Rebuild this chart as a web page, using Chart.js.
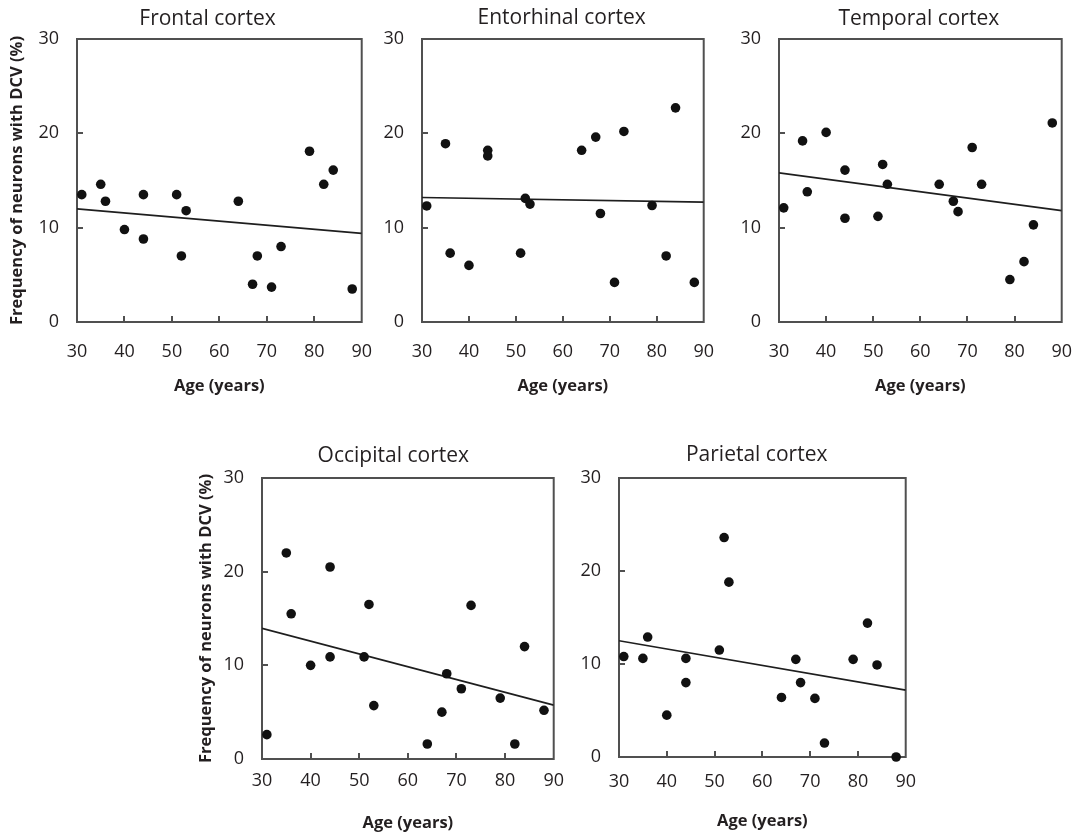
<!DOCTYPE html>
<html>
<head>
<meta charset="utf-8">
<title>DCV frequency vs age</title>
<script src="https://cdn.jsdelivr.net/npm/chart.js@4.4.1/dist/chart.umd.min.js"></script>
<style>
  html, body { margin: 0; padding: 0; background: #fff; }
  body { width: 1087px; height: 834px; position: relative; overflow: hidden; }
  canvas { position: absolute; }
</style>
</head>
<body>
<canvas id="cFrontal"></canvas>
<canvas id="cEntorhinal"></canvas>
<canvas id="cTemporal"></canvas>
<canvas id="cOccipital"></canvas>
<canvas id="cParietal"></canvas>
<script>
// ── DATA ─────────────────────────────────────────────────────────────────────
const ages = [31, 35, 36, 40, 44, 44, 51, 52, 53, 64, 67, 68, 71, 73, 79, 82, 84, 88];

const frontal    = [13.5, 14.6, 12.8, 9.8, 13.5, 8.8, 13.5, 7.0, 11.8, 12.8, 4.0, 7.0, 3.7, 8.0, 18.1, 14.6, 16.1, 3.5];
const entorhinal = [12.3, 18.9, 7.3, 6.0, 18.2, 17.6, 7.3, 13.1, 12.5, 18.2, 19.6, 11.5, 4.2, 20.2, 12.35, 7.0, 22.7, 4.2];
const temporal   = [12.1, 19.2, 13.8, 20.1, 16.1, 11.0, 11.2, 16.7, 14.6, 14.6, 12.8, 11.7, 18.5, 14.6, 4.5, 6.4, 10.3, 21.1];
const occipital  = [2.6, 22.0, 15.5, 10.0, 20.5, 10.9, 10.9, 16.5, 5.7, 1.6, 5.0, 9.1, 7.5, 16.4, 6.5, 1.6, 12.0, 5.2];
const parietal   = [10.8, 10.6, 12.9, 4.5, 10.6, 8.0, 11.5, 23.6, 18.8, 6.4, 10.5, 8.0, 6.3, 1.5, 10.5, 14.4, 9.9, 0.0];

// regression lines, value at each end of the age axis
const fitAges       = [30, 90];
const frontalFit    = [12.0, 9.4];
const entorhinalFit = [13.2, 12.7];
const temporalFit   = [15.8, 11.8];
const occipitalFit  = [13.95, 5.75];
const parietalFit   = [12.5, 7.2];

const xTickValues = [30, 40, 50, 60, 70, 80, 90];
const yTickValues = [0, 10, 20, 30];

const xTitle = "Age (years)";
const yTitle = "Frequency of neurons with DCV (%)";

// ── STYLE ────────────────────────────────────────────────────────────────────
const INK   = "#231f20";
const FRAME = "#505050";
const FONT  = "'Open Sans', sans-serif";
const Y_AXIS_W = 77, X_AXIS_H = 78, PAD_TOP = 39, PAD_RIGHT = 20;

// box round the plot + short inward tick marks
const framePlugin = {
  id: "frame",
  beforeDatasetsDraw(chart) {
    const { ctx, chartArea: a, scales: { x, y } } = chart;
    ctx.save();
    ctx.strokeStyle = FRAME;
    ctx.lineWidth = 2;
    ctx.strokeRect(a.left, a.top, a.right - a.left, a.bottom - a.top);
    ctx.beginPath();
    x.ticks.forEach(t => {
      if (t.value <= x.min || t.value >= x.max) return;
      const px = Math.round(x.getPixelForValue(t.value));
      ctx.moveTo(px, a.bottom);
      ctx.lineTo(px, a.bottom - 6);
    });
    y.ticks.forEach(t => {
      if (t.value <= y.min || t.value >= y.max) return;
      const py = Math.round(y.getPixelForValue(t.value));
      ctx.moveTo(a.left, py);
      ctx.lineTo(a.left + 6, py);
    });
    ctx.stroke();
    ctx.restore();
  }
};

// panel heading, placed like the original (not exactly centred on the box)
const headingPlugin = {
  id: "heading",
  afterDraw(chart, args, opts) {
    const ctx = chart.ctx;
    ctx.save();
    ctx.fillStyle = INK;
    ctx.font = `21px ${FONT}`;
    ctx.textAlign = "center";
    ctx.textBaseline = "alphabetic";
    ctx.fillText(opts.text, opts.x, opts.y);
    ctx.restore();
  }
};

function drawPanel(id, name, values, fit, g) {
  const canvas = document.getElementById(id);
  const left = g.L - Y_AXIS_W, top = g.T - PAD_TOP;
  canvas.width  = g.R - left + PAD_RIGHT;
  canvas.height = g.B - top + X_AXIS_H;
  canvas.style.left = left + "px";
  canvas.style.top  = top + "px";

  const pts  = ages.map((a, i) => ({ x: a, y: values[i] }));
  const line = fitAges.map((a, i) => ({ x: a, y: fit[i] }));

  new Chart(canvas.getContext("2d"), {
    type: "scatter",
    data: {
      datasets: [
        { data: pts, backgroundColor: "#111", borderWidth: 0, pointRadius: 4.8, clip: false },
        { data: line, showLine: true, borderColor: "#1e1e1e", borderWidth: 1.7, pointRadius: 0, fill: false }
      ]
    },
    options: {
      responsive: false,
      animation: false,
      events: [],
      layout: { padding: { left: 0, top: PAD_TOP, right: PAD_RIGHT, bottom: 0 } },
      plugins: {
        legend: { display: false },
        tooltip: { enabled: false },
        heading: { text: name, x: g.titleX - left, y: g.titleY - top }
      },
      scales: {
        x: {
          type: "linear",
          min: xTickValues[0], max: xTickValues[xTickValues.length - 1],
          grid: { display: false, drawTicks: false },
          border: { display: false },
          ticks: { stepSize: 10, padding: g.tickPad, color: INK, font: { family: FONT, size: 18 }, maxRotation: 0 },
          title: { display: true, text: xTitle, color: INK, font: { family: FONT, size: 16.5, weight: "bold" }, padding: { top: 0, bottom: 4 } },
          afterFit(s) { s.height = X_AXIS_H; }
        },
        y: {
          type: "linear",
          min: yTickValues[0], max: yTickValues[yTickValues.length - 1],
          grid: { display: false, drawTicks: false },
          border: { display: false },
          ticks: { stepSize: 10, padding: 18, color: INK, font: { family: FONT, size: 18 } },
          title: { display: g.yTitle, text: yTitle, color: INK, font: { family: FONT, size: 16.5, weight: "bold" }, padding: { top: g.yTitlePad, bottom: 0 } },
          afterFit(s) { s.width = Y_AXIS_W; }
        }
      }
    },
    plugins: [framePlugin, headingPlugin]
  });
}

// ── LAYOUT (plot box in page pixels) ─────────────────────────────────────────
drawPanel("cFrontal", "Frontal cortex", frontal, frontalFit,
  { L: 77, R: 371, T: 39, B: 322, tickPad: 19, titleX: 207.5, titleY: 25, yTitle: true, yTitlePad: 7 });
drawPanel("cEntorhinal", "Entorhinal cortex", entorhinal, entorhinalFit,
  { L: 422, R: 713, T: 39, B: 322, tickPad: 19, titleX: 561.7, titleY: 24, yTitle: false, yTitlePad: 0 });
drawPanel("cTemporal", "Temporal cortex", temporal, temporalFit,
  { L: 779, R: 1071, T: 39, B: 322, tickPad: 19, titleX: 918.8, titleY: 25, yTitle: false, yTitlePad: 0 });
drawPanel("cOccipital", "Occipital cortex", occipital, occipitalFit,
  { L: 262, R: 555, T: 478, B: 759, tickPad: 11, titleX: 393.3, titleY: 462, yTitle: true, yTitlePad: 11 });
drawPanel("cParietal", "Parietal cortex", parietal, parietalFit,
  { L: 619, R: 910, T: 478, B: 757, tickPad: 14, titleX: 756.7, titleY: 461, yTitle: false, yTitlePad: 0 });
</script>
</body>
</html>
